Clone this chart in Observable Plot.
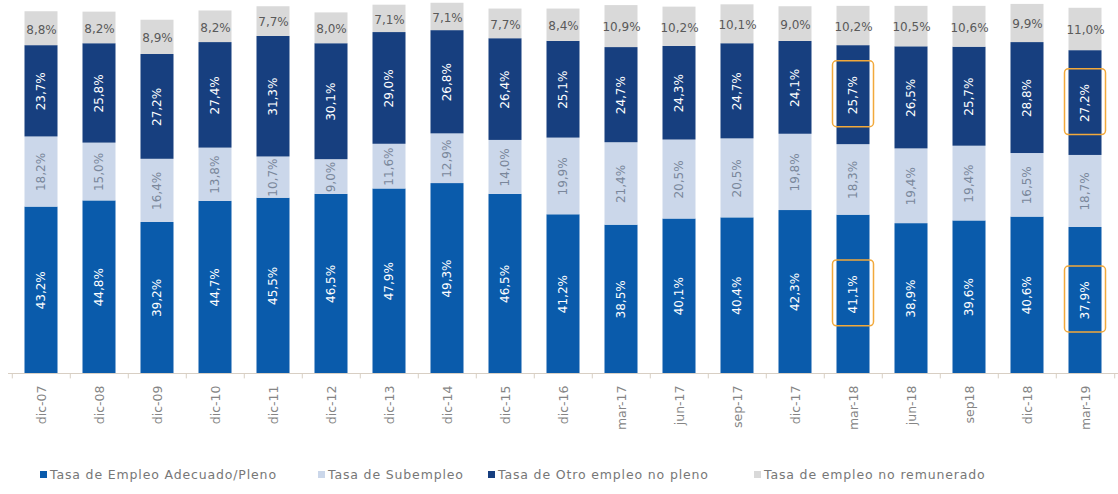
<!DOCTYPE html>
<html>
<head>
<meta charset="utf-8">
<script src="https://cdn.jsdelivr.net/npm/d3@7"></script>
<script src="https://cdn.jsdelivr.net/npm/@observablehq/plot@0.6"></script>
<style>
  html, body { margin: 0; padding: 0; background: #fff; }
  body { width: 1118px; height: 494px; overflow: hidden; font-family: "DejaVu Sans", sans-serif; }
  #legend { position: relative; height: 24px; margin-top: 17px; font-size: 12.5px; color: #777; letter-spacing: 0.85px; }
  #legend .item { position: absolute; top: 0; display: flex; align-items: center; white-space: nowrap; }
  #legend .sw { width: 7px; height: 7px; margin-right: 3px; }
</style>
</head>
<body>
<div id="chart"></div>
<div id="legend"></div>
<script>
const categories = ["dic-07","dic-08","dic-09","dic-10","dic-11","dic-12","dic-13","dic-14","dic-15","dic-16","mar-17","jun-17","sep-17","dic-17","mar-18","jun-18","sep18","dic-18","mar-19"];
const seriesNames = ["Tasa de Empleo Adecuado/Pleno","Tasa de Subempleo","Tasa de Otro empleo no pleno","Tasa de empleo no remunerado"];
const adecuado  = [43.2,44.8,39.2,44.7,45.5,46.5,47.9,49.3,46.5,41.2,38.5,40.1,40.4,42.3,41.1,38.9,39.6,40.6,37.9];
const subempleo = [18.2,15.0,16.4,13.8,10.7,9.0,11.6,12.9,14.0,19.9,21.4,20.5,20.5,19.8,18.3,19.4,19.4,16.5,18.7];
const otro      = [23.7,25.8,27.2,27.4,31.3,30.1,29.0,26.8,26.4,25.1,24.7,24.3,24.7,24.1,25.7,26.5,25.7,28.8,27.2];
const noRemun   = [8.8,8.2,8.9,8.2,7.7,8.0,7.1,7.1,7.7,8.4,10.9,10.2,10.1,9.0,10.2,10.5,10.6,9.9,11.0];
const colors = ["#0a5bab","#cbd7ea","#173f7f","#d9d9d9"];
const legendLeft = [40, 318, 488, 754];
const highlights = [
  {cat: "mar-18", series: 0}, {cat: "mar-18", series: 2},
  {cat: "mar-19", series: 0}, {cat: "mar-19", series: 2}
];

const seriesValues = [adecuado, subempleo, otro, noRemun];
const data = [];
seriesNames.forEach((s, si) => {
  categories.forEach((c, ci) => {
    data.push({cat: c, series: s, si, value: seriesValues[si][ci]});
  });
});
const fmt = v => v.toFixed(1).replace(".", ",") + "%";

const hl = highlights.map(h => {
  const ci = categories.indexOf(h.cat);
  let base = 0;
  for (let i = 0; i < h.series; i++) base += seriesValues[i][ci];
  const mid = base + seriesValues[h.series][ci] / 2;
  return {cat: h.cat, y1: mid - 8.3, y2: mid + 8.8};
});

const step = 1110 / categories.length;
const inset = 12.5;

const chart = Plot.plot({
  width: 1118,
  height: 450,
  marginTop: 2,
  marginBottom: 77,
  marginLeft: 8,
  marginRight: 0,
  style: {fontFamily: "'DejaVu Sans', sans-serif", background: "transparent"},
  x: {domain: categories, padding: 0, axis: null},
  y: {domain: [0, 96.3], axis: null},
  color: {domain: seriesNames, range: colors},
  marks: [
    Plot.barY(data, {x: "cat", y: "value", fill: "series", z: "series", insetLeft: inset, insetRight: inset}),
    Plot.ruleY([0], {stroke: "#d8cfc4", strokeWidth: 1}),
    Plot.ruleX(categories, {x: d => d, dx: -step / 2, y1: 0, y2: -1.4, stroke: "#d8cfc4"}),
    Plot.ruleX(categories.slice(-1), {x: d => d, dx: step / 2, y1: 0, y2: -1.4, stroke: "#d8cfc4"}),
    Plot.text(categories, {x: d => d, y: 0, text: d => d, rotate: -90, dy: 12, textAnchor: "end", fill: "#858585", fontSize: 12.5, letterSpacing: 1.6}),
    Plot.text(data, Plot.stackY({
      x: "cat", y: "value", z: "series",
      text: d => d.si < 3 ? fmt(d.value) : null, rotate: -90,
      fill: d => d.si === 1 ? "#7a879b" : "#ffffff",
      fontSize: 12, letterSpacing: 0.6
    })),
    Plot.text(data, Plot.stackY({
      x: "cat", y: "value", z: "series",
      text: d => d.si === 3 ? fmt(d.value) : null,
      fill: "#5a5a5a", fontSize: 12, dy: 1
    })),
    Plot.barY(hl, {x: "cat", y1: "y1", y2: "y2", fill: "none", stroke: "#f2a93b", strokeWidth: 1.5, rx: 4, insetLeft: inset - 4, insetRight: inset - 4})
  ]
});
document.getElementById("chart").appendChild(chart);

const legend = document.getElementById("legend");
seriesNames.forEach((s, i) => {
  const item = document.createElement("div");
  item.className = "item";
  item.style.left = legendLeft[i] + "px";
  const sw = document.createElement("span");
  sw.className = "sw";
  sw.style.background = colors[i];
  const t = document.createElement("span");
  t.textContent = s;
  item.appendChild(sw);
  item.appendChild(t);
  legend.appendChild(item);
});
</script>
</body>
</html>
